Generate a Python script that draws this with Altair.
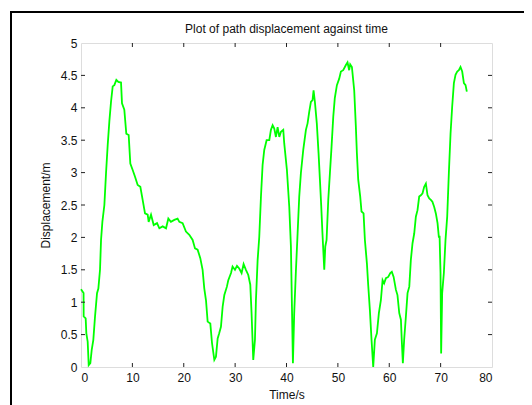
import altair as alt
import pandas as pd

# ---- data ----
TIME = [0, 0.5, 0.52, 0.91, 1.04, 1.3, 1.5, 1.82, 2.08, 2.4, 2.73, 3.12, 3.38, 3.7, 3.9,
        4.16, 4.55, 4.87, 5.2, 5.52, 5.84, 6.17, 6.49, 6.88, 7.27, 7.79, 7.98, 8.43, 8.82,
        9.28, 9.6, 10.06, 10.5, 11.03, 11.55, 12.0, 12.46, 12.98, 13.17, 13.63, 14.15, 14.8,
        15.25, 15.9, 16.55, 17.0, 17.5, 18.17, 18.8, 19.14, 19.78, 20.43, 21.08, 21.73,
        22.19, 22.7, 23.22, 23.67, 24.0, 24.33, 24.65, 25.17, 25.5, 25.95, 26.27, 26.6,
        26.9, 27.24, 27.57, 27.9, 28.4, 28.67, 29.2, 29.5, 29.97, 30.36, 30.8, 31.26, 31.65,
        32.1, 32.56, 32.95, 33.2, 33.53, 33.86, 34.05, 34.38, 34.7, 35.03, 35.35, 35.67,
        36.13, 36.65, 36.97, 37.3, 37.62, 37.94, 38.27, 38.6, 38.92, 39.37, 39.56, 40.08,
        40.54, 40.86, 41.06, 41.25, 41.5, 41.84, 42.16, 42.48, 42.8, 43.26, 43.78, 44.1,
        44.43, 44.75, 45.07, 45.27, 45.53, 45.9, 46.24, 46.5, 46.75, 47.0, 47.35, 47.55,
        47.8, 48.13, 48.45, 48.77, 49.1, 49.4, 49.81, 50.26, 50.59, 51.04, 51.56, 51.88,
        52.2, 52.4, 52.73, 53.18, 53.5, 53.7, 53.96, 54.35, 54.6, 55.0, 55.26, 55.65, 55.9,
        56.23, 56.55, 56.88, 57.2, 57.6, 57.98, 58.37, 58.7, 59.0, 59.35, 59.8, 60.2, 60.5,
        60.85, 61.3, 61.6, 61.95, 62.27, 62.46, 62.65, 62.9, 63.24, 63.56, 63.9, 64.2,
        64.53, 64.86, 65.18, 65.5, 65.83, 66.15, 66.48, 66.8, 67.13, 67.45, 67.78, 68.1,
        68.4, 68.75, 69.07, 69.4, 69.65, 69.8, 69.98, 70.1, 70.3, 70.63, 70.95, 71.28,
        71.6, 71.93, 72.25, 72.58, 72.9, 73.23, 73.55, 73.87, 74.2, 74.53, 74.85, 75.1]

DISPLACEMENT = [1.2, 1.14, 0.78, 0.75, 0.52, 0.39, 0.03, 0.06, 0.26, 0.42, 0.78, 1.14, 1.21,
                1.5, 1.96, 2.24, 2.5, 2.99, 3.43, 3.79, 4.09, 4.33, 4.35, 4.43, 4.4, 4.39,
                4.07, 3.97, 3.6, 3.58, 3.14, 3.04, 2.94, 2.81, 2.78, 2.58, 2.37, 2.35, 2.24,
                2.35, 2.19, 2.22, 2.14, 2.17, 2.14, 2.29, 2.24, 2.27, 2.29, 2.24, 2.22, 2.09,
                2.04, 1.96, 1.83, 1.81, 1.68, 1.5, 1.21, 1.03, 0.7, 0.67, 0.37, 0.11, 0.16,
                0.44, 0.52, 0.62, 0.93, 1.11, 1.24, 1.34, 1.45, 1.55, 1.5, 1.56, 1.52, 1.45,
                1.59, 1.5, 1.42, 1.27, 0.83, 0.11, 0.42, 1.03, 1.65, 2.01, 2.63, 3.12, 3.35,
                3.5, 3.5, 3.66, 3.73, 3.68, 3.55, 3.7, 3.55, 3.63, 3.66, 3.45, 3.04, 2.47,
                1.86, 0.93, 0.06, 0.83, 1.5, 2.06, 2.63, 2.99, 3.35, 3.66, 3.76, 3.94, 4.09,
                4.12, 4.27, 4.09, 3.76, 3.3, 2.9, 2.5, 2.06, 1.5, 1.86, 1.96, 2.58, 2.99, 3.4,
                3.86, 4.15, 4.35, 4.45, 4.56, 4.58, 4.66, 4.7, 4.58, 4.67, 4.63, 4.27, 3.71,
                3.3, 2.89, 2.63, 2.4, 2.37, 1.96, 1.6, 1.27, 0.88, 0.42, 0.0, 0.42, 0.52, 0.83,
                1.03, 1.34, 1.29, 1.37, 1.39, 1.45, 1.47, 1.39, 1.19, 1.11, 0.83, 0.73, 0.37,
                0.06, 0.42, 0.78, 1.14, 1.24, 1.65, 1.91, 2.06, 2.32, 2.42, 2.63, 2.65, 2.68,
                2.78, 2.83, 2.65, 2.6, 2.58, 2.55, 2.47, 2.37, 2.22, 2.01, 2.01, 1.45, 0.21,
                1.14, 1.45, 1.96, 2.32, 2.99, 3.6, 4.02, 4.38, 4.51, 4.56, 4.58, 4.63, 4.56,
                4.38, 4.35, 4.25]

X_TICKS = [0, 10, 20, 30, 40, 50, 60, 70, 80]
Y_TICKS = [0, 0.5, 1, 1.5, 2, 2.5, 3, 3.5, 4, 4.5, 5]

TITLE = "Plot of path displacement against time"
X_TITLE = "Time/s"
Y_TITLE = "Displacement/m"

W, H = 411, 324
FONT = "Liberation Sans"

# one long table: the curve plus the inner tick positions
curve = pd.DataFrame({"t": TIME, "d": DISPLACEMENT, "kind": "curve"})
xt = pd.DataFrame({"t": X_TICKS[1:-1], "d": None, "kind": "xtick"})
yt = pd.DataFrame({"t": None, "d": Y_TICKS[1:-1], "kind": "ytick"})
df = pd.concat([curve, xt, yt], ignore_index=True)

xscale = alt.Scale(domain=[0, 80], nice=False, zero=False)
yscale = alt.Scale(domain=[0, 5], nice=False, zero=False)

xaxis = alt.Axis(values=X_TICKS, ticks=False, domain=False, grid=False,
                 labelOverlap=False, labelPadding=5, titlePadding=6,
                 labelFontSize=12, titleFontSize=12, labelFont=FONT,
                 titleFont=FONT, labelColor="#111", titleColor="#111",
                 titleFontWeight="normal")
yaxis = alt.Axis(values=Y_TICKS, format="~g", ticks=False, domain=False, grid=False,
                 labelOverlap=False, labelPadding=4, titlePadding=8,
                 labelFontSize=12, titleFontSize=12, labelFont=FONT,
                 titleFont=FONT, labelColor="#111", titleColor="#111",
                 titleFontWeight="normal")

X = alt.X("t:Q", scale=xscale, title=X_TITLE, axis=xaxis)
Y = alt.Y("d:Q", scale=yscale, title=Y_TITLE, axis=yaxis)

base = alt.Chart(df)

line = base.transform_filter(alt.datum.kind == "curve").mark_line(
    color="#00ff00", strokeWidth=1.8).encode(x=X, y=Y)

tick_len = 4
xt_base = base.transform_filter(alt.datum.kind == "xtick")
yt_base = base.transform_filter(alt.datum.kind == "ytick")
top_ticks = xt_base.mark_rule(color="#222", strokeWidth=1).encode(
    x=X, y=alt.value(0), y2=alt.value(tick_len))
bottom_ticks = xt_base.mark_rule(color="#222", strokeWidth=1).encode(
    x=X, y=alt.value(H - tick_len), y2=alt.value(H))
left_ticks = yt_base.mark_rule(color="#222", strokeWidth=1).encode(
    y=Y, x=alt.value(0), x2=alt.value(tick_len))
right_ticks = yt_base.mark_rule(color="#222", strokeWidth=1).encode(
    y=Y, x=alt.value(W - tick_len), x2=alt.value(W))

one = alt.Data(values=[{"k": 1}])
frame_v = alt.Chart(one).mark_rule(color="#000", strokeWidth=2).encode(
    x=alt.value(-70), y=alt.value(-31), y2=alt.value(420))
frame_h = alt.Chart(one).mark_rule(color="#000", strokeWidth=2).encode(
    x=alt.value(-71), x2=alt.value(560), y=alt.value(-31))
title = alt.Chart(one).mark_text(
    text=TITLE, font=FONT, fontSize=12, color="#111", align="center", baseline="middle"
).encode(x=alt.value(W / 2), y=alt.value(-14))

chart = alt.layer(
    line, top_ticks, bottom_ticks, left_ticks, right_ticks, frame_v, frame_h, title
).properties(
    width=W, height=H,
    autosize=alt.AutoSizeParams(type="none"),
    padding={"left": 73, "top": 35, "right": 32, "bottom": 50},
).configure_view(
    stroke="#222", strokeWidth=1
).configure(background="white")

chart.save("out.html", embed_options={"renderer": "svg", "actions": False})
